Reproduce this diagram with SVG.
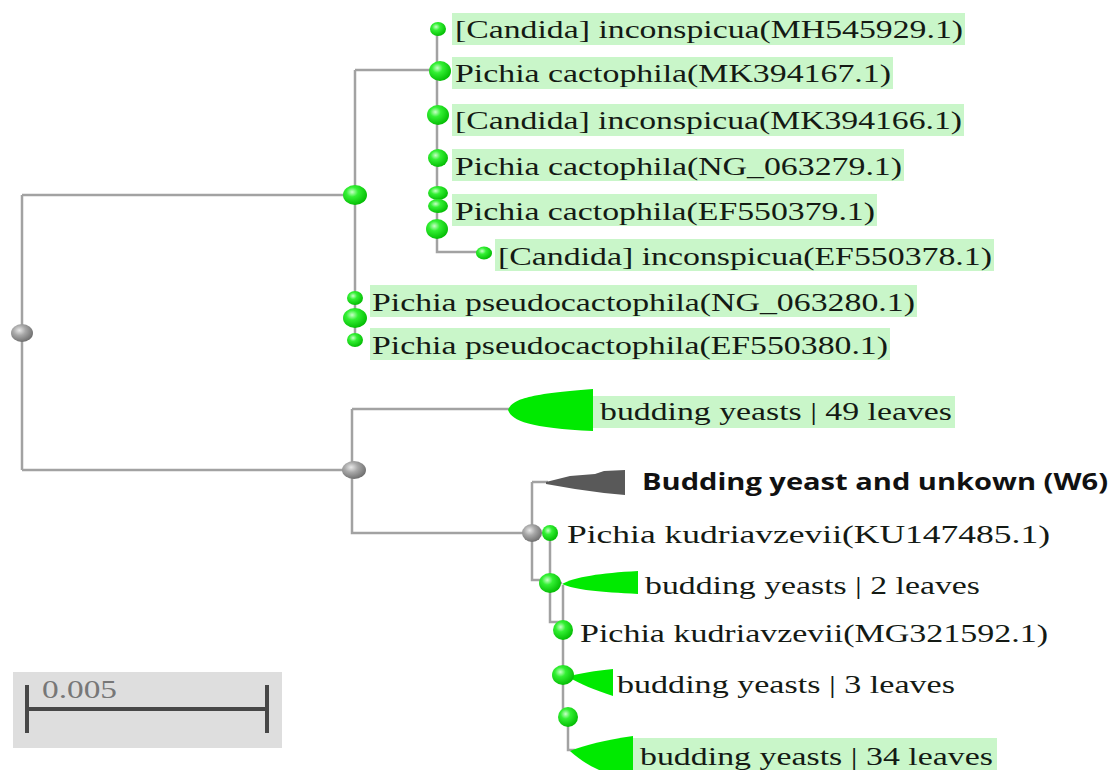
<svg xmlns="http://www.w3.org/2000/svg" width="1116" height="770" viewBox="0 0 1116 770">
<defs>
<radialGradient id="gG" cx="0.38" cy="0.35" r="0.7">
<stop offset="0" stop-color="#c8ffc8"/>
<stop offset="0.35" stop-color="#33f033"/>
<stop offset="1" stop-color="#00b800"/>
</radialGradient>
<radialGradient id="gR" cx="0.38" cy="0.35" r="0.7">
<stop offset="0" stop-color="#e8e8e8"/>
<stop offset="0.4" stop-color="#a8a8a8"/>
<stop offset="1" stop-color="#6a6a6a"/>
</radialGradient>
</defs>
<style>
.br{fill:none;stroke:#a2a2a2;stroke-width:2.5}
.gn{fill:url(#gG)}
.rn{fill:url(#gR)}
.hl{fill:#c9f6c9}
.lb{font-family:"Liberation Serif","Times New Roman",serif;font-size:26px;fill:#141a14}
.tri{fill:#00ea00}
</style>
<rect width="1116" height="770" fill="#ffffff"/>

<g id="highlights">
<rect class="hl" x="452" y="13" width="513" height="32"/>
<rect class="hl" x="452" y="57" width="441" height="32"/>
<rect class="hl" x="452" y="104" width="512" height="32"/>
<rect class="hl" x="452" y="149" width="452" height="32"/>
<rect class="hl" x="452" y="194" width="425" height="32"/>
<rect class="hl" x="495" y="239" width="499" height="32"/>
<rect class="hl" x="370" y="285" width="547" height="32"/>
<rect class="hl" x="370" y="328" width="520" height="32"/>
<rect class="hl" x="593" y="396" width="362" height="32"/>
<rect class="hl" x="630" y="738" width="367" height="32"/>
</g>

<g id="connectors">
<path class="br" d="M22,195 V470"/>
<path class="br" d="M22,195 H355"/>
<path class="br" d="M22,470 H352"/>
<path class="br" d="M355,70 V340"/>
<path class="br" d="M355,70 H437"/>
<path class="br" d="M437,30 V252 H480"/>
<path class="br" d="M352,409 V533 H532"/>
<path class="br" d="M352,409 H510"/>
<path class="br" d="M532,482 H548"/>
<path class="br" d="M532,482 V580 H550"/>
<path class="br" d="M550,533 V622 H563"/>
<path class="br" d="M563,585 V712"/>
<path class="br" d="M568,720 V750 H575"/>
<path class="br" d="M550,583 H562"/>
</g>

<g id="root"><ellipse class="rn" cx="22" cy="333" rx="11" ry="9"/></g>
<g id="upper-clade"><ellipse class="gn" cx="355" cy="195" rx="12" ry="10"/></g>
<g id="cactophila-clade"><ellipse class="gn" cx="440" cy="71" rx="11" ry="10"/></g>
<g id="inner-node-1"><ellipse class="gn" cx="437" cy="229" rx="11" ry="10"/></g>
<g id="pseudo-clade"><ellipse class="gn" cx="355" cy="318" rx="12" ry="10"/></g>
<g id="lower-clade"><ellipse class="rn" cx="354" cy="470" rx="12" ry="9"/></g>
<g id="kudriavzevii-clade"><ellipse class="rn" cx="532" cy="533" rx="10" ry="9"/></g>
<g id="inner-node-2"><ellipse class="gn" cx="550" cy="583" rx="11" ry="10"/></g>
<g id="inner-node-3"><ellipse class="gn" cx="568" cy="717" rx="10" ry="10"/></g>

<g id="leaf-MH545929">
<ellipse class="gn" cx="438" cy="29" rx="8" ry="7"/>
<text class="lb" x="455" y="38" textLength="508" lengthAdjust="spacingAndGlyphs">[Candida] inconspicua(MH545929.1)</text>
</g>
<g id="leaf-MK394167">
<text class="lb" x="455" y="82" textLength="436" lengthAdjust="spacingAndGlyphs">Pichia cactophila(MK394167.1)</text>
</g>
<g id="leaf-MK394166">
<ellipse class="gn" cx="438" cy="115" rx="11" ry="10"/>
<text class="lb" x="455" y="129" textLength="507" lengthAdjust="spacingAndGlyphs">[Candida] inconspicua(MK394166.1)</text>
</g>
<g id="leaf-NG063279">
<ellipse class="gn" cx="438" cy="158" rx="10" ry="9"/>
<text class="lb" x="455" y="175" textLength="447" lengthAdjust="spacingAndGlyphs">Pichia cactophila(NG_063279.1)</text>
</g>
<g id="leaf-EF550379">
<ellipse class="gn" cx="438" cy="193" rx="10" ry="7"/>
<ellipse class="gn" cx="438" cy="206" rx="10" ry="7"/>
<text class="lb" x="455" y="220" textLength="420" lengthAdjust="spacingAndGlyphs">Pichia cactophila(EF550379.1)</text>
</g>
<g id="leaf-EF550378">
<ellipse class="gn" cx="484" cy="253" rx="8" ry="6.5"/>
<text class="lb" x="498" y="265" textLength="494" lengthAdjust="spacingAndGlyphs">[Candida] inconspicua(EF550378.1)</text>
</g>
<g id="leaf-NG063280">
<ellipse class="gn" cx="355" cy="298" rx="8" ry="7"/>
<text class="lb" x="372" y="311" textLength="543" lengthAdjust="spacingAndGlyphs">Pichia pseudocactophila(NG_063280.1)</text>
</g>
<g id="leaf-EF550380">
<ellipse class="gn" cx="355" cy="340" rx="8" ry="7"/>
<text class="lb" x="372" y="354" textLength="516" lengthAdjust="spacingAndGlyphs">Pichia pseudocactophila(EF550380.1)</text>
</g>
<g id="collapsed-49">
<path class="tri" d="M508,410 C512,400 525,394 593,389 L593,431 C530,428 512,421 508,410 Z"/>
<text class="lb" x="600" y="420" textLength="352" lengthAdjust="spacingAndGlyphs">budding yeasts | 49 leaves</text>
</g>
<g id="collapsed-W6">
<path d="M546,482 L570,476 L595,474 L604,471 L625,470 L625,495 L604,493 L575,489 L546,484 Z" fill="#595959"/>
<text x="642" y="490" font-family="'Open Sans','Liberation Sans',sans-serif" font-weight="bold" font-size="23" fill="#111" textLength="466" lengthAdjust="spacingAndGlyphs">Budding yeast and unkown (W6)</text>
</g>
<g id="leaf-KU147485">
<ellipse class="gn" cx="550" cy="533" rx="8" ry="8"/>
<text class="lb" x="567" y="543" textLength="483" lengthAdjust="spacingAndGlyphs">Pichia kudriavzevii(KU147485.1)</text>
</g>
<g id="collapsed-2">
<path class="tri" d="M562,584 C575,577 600,573 638,571 L638,594 C600,592 575,590 562,584 Z"/>
<text class="lb" x="645" y="594" textLength="335" lengthAdjust="spacingAndGlyphs">budding yeasts | 2 leaves</text>
</g>
<g id="leaf-MG321592">
<ellipse class="gn" cx="563" cy="630" rx="10" ry="10"/>
<text class="lb" x="580" y="642" textLength="468" lengthAdjust="spacingAndGlyphs">Pichia kudriavzevii(MG321592.1)</text>
</g>
<g id="collapsed-3">
<path class="tri" d="M568,677 C580,673 595,671 613,669 L613,696 C595,690 580,684 568,677 Z"/>
<ellipse class="gn" cx="563" cy="675" rx="11" ry="10"/>
<text class="lb" x="617" y="693" textLength="338" lengthAdjust="spacingAndGlyphs">budding yeasts | 3 leaves</text>
</g>
<g id="collapsed-34">
<path class="tri" d="M570,751 C585,745 605,740 633,736 L633,780 C605,775 585,765 570,751 Z"/>
<text class="lb" x="640" y="765" textLength="353" lengthAdjust="spacingAndGlyphs">budding yeasts | 34 leaves</text>
</g>

<g id="scale-bar">
<rect x="13" y="672" width="269" height="76" fill="#dedede"/>
<path d="M27,685 V733 M267,685 V733 M27,709 H267" stroke="#474747" stroke-width="4" fill="none"/>
<text x="42" y="698" font-family="'Liberation Serif','Times New Roman',serif" font-size="26" fill="#777" textLength="75" lengthAdjust="spacingAndGlyphs">0.005</text>
</g>
</svg>
